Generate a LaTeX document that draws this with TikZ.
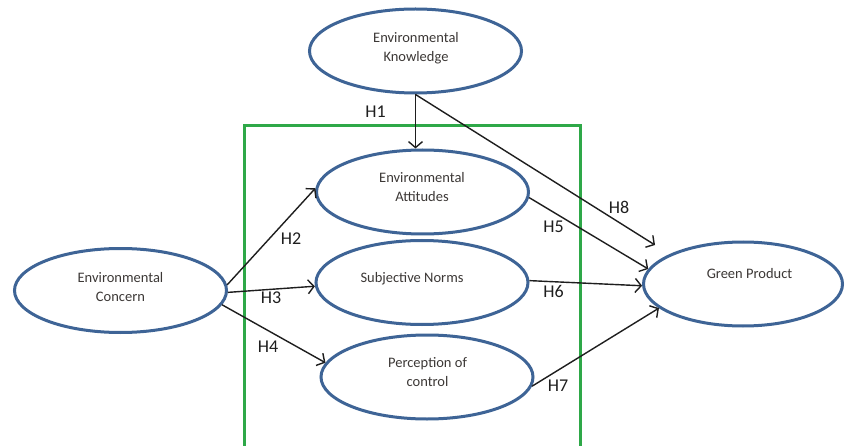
\documentclass[tikz,border=0pt]{standalone}
\usepackage{fontspec}
\setmainfont{Carlito}
\usetikzlibrary{shapes.geometric,arrows.meta}
\definecolor{ellblue}{RGB}{62,100,150}
\definecolor{boxgreen}{RGB}{46,168,72}
\definecolor{txtgray}{RGB}{60,56,54}
\definecolor{lblblack}{RGB}{30,30,30}
\begin{document}
\begin{tikzpicture}[x=1pt,y=-1pt,
  ell/.style={draw=ellblue,line width=3pt,ellipse,minimum width=212pt,minimum height=84pt,inner sep=0pt},
  etext/.style={text=txtgray,font=\fontsize{14.5}{19}\selectfont,align=center,inner sep=0pt},
  hlabel/.style={text=lblblack,font=\fontsize{18}{20}\selectfont,inner sep=0pt},
  conn/.style={draw=lblblack,line width=1.4pt,-{Straight Barb[length=6pt,width=14pt]}}]
\useasboundingbox (0,0) rectangle (845,446);
\clip (0,0) rectangle (845,446);
\fill[white] (0,0) rectangle (845,446);

% green frame
\draw[boxgreen,line width=3pt] (244,126) rectangle (580,470);

% ellipses
\node[ell] (kn) at (415.5,51) {};
\node[etext] (knt) at (416,48.5) {Environmental\\Knowledge};
\node[ell] (att) at (422.5,192) {};
\node[etext] (attt) at (422,187) {Environmental\\Attitudes};
\node[ell] (nor) at (422,282.5) {};
\node[etext] (nort) at (412,279) {Subjective Norms};
\node[ell] (per) at (427,377) {};
\node[etext] (pert) at (427.5,372) {Perception of\\control};
\node[ell] (con) at (120.5,290.5) {};
\node[etext] (cont) at (120.5,287.5) {Environmental\\Concern};
\node[ell,minimum width=199pt] (gp) at (743,284) {};
\node[etext] (gpt) at (749.5,274) {Green Product};

% connectors
\coordinate (h8end) at (655,245);
\draw[conn] (kn.south) -- (kn.south |- att.north);
\draw[conn] (kn.south) -- (h8end);
\draw[conn] (con.3) -- (att.178);
\draw[conn] (con.-1) -- (nor.182);
\draw[conn] (con.-8) -- (per.172);
\draw[conn] (att.-3) -- (gp.171);
\draw[conn] (nor.1) -- (gp.181);
\draw[conn] (per.-5) -- (gp.196);

% labels
\node[hlabel] (h1) at (375.5,112) {H1};
\node[hlabel] (h2) at (291,238.5) {H2};
\node[hlabel] (h3) at (271,297.5) {H3};
\node[hlabel] (h4) at (268,346.5) {H4};
\node[hlabel] (h5) at (553.5,227) {H5};
\node[hlabel] (h6) at (553.5,291) {H6};
\node[hlabel] (h7) at (558,386) {H7};
\node[hlabel] (h8) at (619,207) {H8};
\end{tikzpicture}
\end{document}
